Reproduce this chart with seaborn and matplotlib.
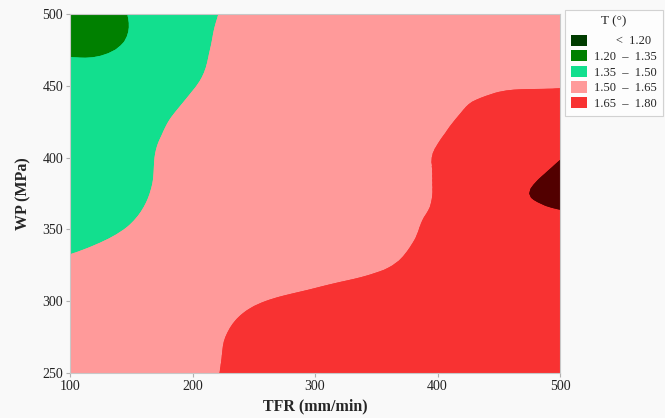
import numpy as np
import matplotlib
matplotlib.use("Agg")
import matplotlib.pyplot as plt
import matplotlib.tri as mtri
from matplotlib.patches import Patch
import seaborn as sns

# ---- data ----
tfr = [100, 150, 200, 250, 300, 350, 400, 450, 500]          # mm/min
wp = [250, 275, 300, 325, 350, 375, 400, 425, 450, 475, 500]  # MPa

t_wp250 = [1.570, 1.600, 1.635, 1.672, 1.710, 1.720, 1.730, 1.740, 1.745]
t_wp275 = [1.560, 1.590, 1.625, 1.670, 1.690, 1.700, 1.720, 1.730, 1.740]
t_wp300 = [1.550, 1.580, 1.610, 1.645, 1.665, 1.680, 1.700, 1.720, 1.730]
t_wp325 = [1.530, 1.560, 1.590, 1.610, 1.625, 1.643, 1.675, 1.710, 1.740]
t_wp350 = [1.420, 1.510, 1.570, 1.590, 1.610, 1.630, 1.665, 1.730, 1.770]
t_wp375 = [1.400, 1.470, 1.560, 1.585, 1.610, 1.635, 1.655, 1.760, 1.820]
t_wp400 = [1.410, 1.465, 1.550, 1.580, 1.610, 1.630, 1.652, 1.700, 1.795]
t_wp425 = [1.400, 1.450, 1.530, 1.570, 1.600, 1.620, 1.642, 1.675, 1.700]
t_wp450 = [1.370, 1.420, 1.495, 1.560, 1.590, 1.610, 1.630, 1.645, 1.648]
t_wp475 = [1.343, 1.365, 1.470, 1.550, 1.580, 1.600, 1.620, 1.635, 1.640]
t_wp500 = [1.280, 1.355, 1.450, 1.550, 1.570, 1.600, 1.620, 1.630, 1.630]

levels = [1.05, 1.20, 1.35, 1.50, 1.65, 1.80, 1.95]
band_colors = ["#003c00", "#008000", "#12df8e", "#ff9a9a", "#f83232", "#520000"]
legend_labels = ["       <  1.20", "1.20  –  1.35", "1.35  –  1.50",
                 "1.50  –  1.65", "1.65  –  1.80"]
x_ticks = [100, 200, 300, 400, 500]
y_ticks = [250, 300, 350, 400, 450, 500]

# ---- figure ----
sns.set_theme(style="white")
plt.rcParams["font.family"] = ["Liberation Serif", "DejaVu Serif"]

fig = plt.figure(figsize=(6.65, 4.18), dpi=100, facecolor="#f9f9f9")
ax = fig.add_axes([70 / 665, 1 - 373 / 418, 490 / 665, 359 / 418])

z = np.array([t_wp250, t_wp275, t_wp300, t_wp325, t_wp350, t_wp375,
              t_wp400, t_wp425, t_wp450, t_wp475, t_wp500])
X, Y = np.meshgrid(tfr, wp)
sx, sy = 50.0, 25.0
tri_n = mtri.Triangulation(X.ravel() / sx, Y.ravel() / sy)
refiner = mtri.UniformTriRefiner(tri_n)
tri_r, z_r = refiner.refine_field(z.ravel(), subdiv=3)
tri_plot = mtri.Triangulation(tri_r.x * sx, tri_r.y * sy, tri_r.triangles)

ax.tricontourf(tri_plot, z_r, levels=levels, colors=band_colors, antialiased=False)
ax.tricontourf(tri_plot, z_r, levels=levels, colors=band_colors, antialiased=True)

ax.set_xlim(100, 500)
ax.set_ylim(250, 500)
ax.set_xticks(x_ticks)
ax.set_yticks(y_ticks)
ax.tick_params(axis="both", which="both", direction="out", length=3, width=0.8,
               color="#b0b0b0", labelsize=10, colors="#222222", pad=2,
               bottom=True, left=True)
for s in ax.spines.values():
    s.set_color("#c8c8c8")
    s.set_linewidth(0.8)

ax.set_xlabel("TFR (mm/min)", fontsize=11.5, fontweight="bold", labelpad=4)
ax.set_ylabel("WP (MPa)", fontsize=11.5, fontweight="bold", labelpad=8)

handles = [Patch(facecolor=c, edgecolor="none") for c in band_colors[:5]]
leg = fig.legend(handles, legend_labels, title="T (°)", loc="upper left",
                 bbox_to_anchor=(565 / 665, 1 - 10 / 418), frameon=True,
                 fancybox=False, fontsize=9, title_fontsize=9.5,
                 handlelength=1.3, handleheight=1.0, handletextpad=0.6,
                 labelspacing=0.22, borderpad=0.45, borderaxespad=0.0)
leg._legend_box.sep = 5
leg.get_frame().set_edgecolor("#c8c8c8")
leg.get_frame().set_facecolor("white")
leg.get_frame().set_linewidth(0.8)

fig.savefig("out.png", dpi=100, facecolor=fig.get_facecolor())
